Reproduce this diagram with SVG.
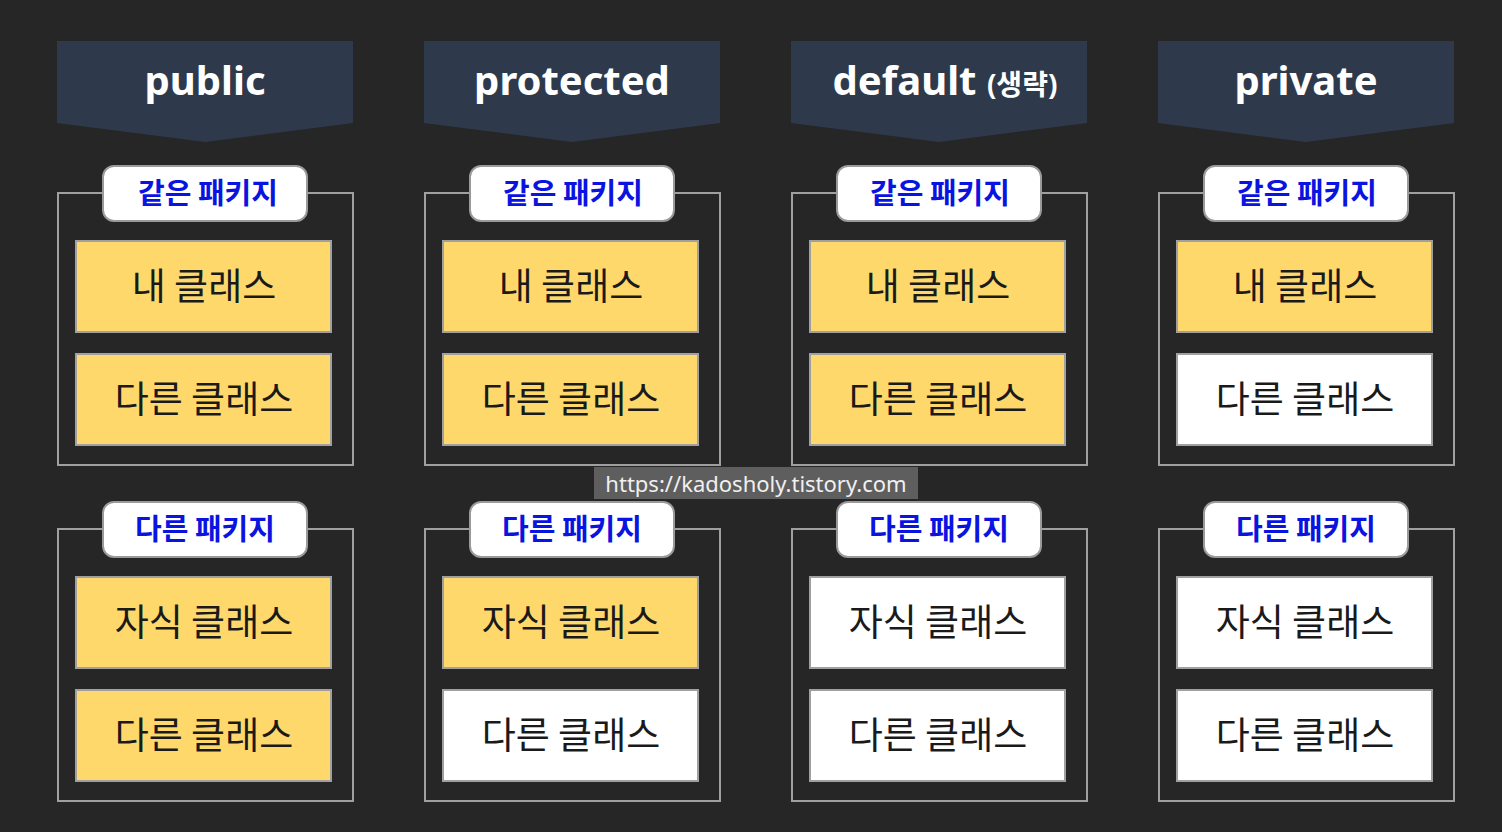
<svg xmlns="http://www.w3.org/2000/svg" width="1502" height="832" viewBox="0 0 1502 832">
<style>
.hdr{fill:#2e3a4c}
.htxt{font-family:"Noto Sans","Noto Sans CJK KR",sans-serif;font-weight:bold;font-size:40px;fill:#ffffff;text-anchor:middle}
.frame{fill:none;stroke:#a0a0a0;stroke-width:2}
.tag{fill:#ffffff;stroke:#9a9a9a;stroke-width:2}
.ttxt{font-family:"Noto Sans CJK KR",sans-serif;font-weight:bold;font-size:29px;fill:#0a14e0;text-anchor:middle}
.on{fill:#fed86b;stroke:#a0a0a0;stroke-width:2}
.off{fill:#ffffff;stroke:#a0a0a0;stroke-width:2}
.ctxt{font-family:"Noto Sans CJK KR",sans-serif;font-size:37px;fill:#1a1a1a;text-anchor:middle}
.wm{font-family:"Noto Sans","Noto Sans CJK KR",sans-serif;font-size:22px;fill:#f0f0f0;text-anchor:middle}
</style>
<defs>
<g id="hdrshape"><path class="hdr" d="M0,41 H296 V123 L148,142 L0,123 Z"/></g>
</defs>
<rect width="1502" height="832" fill="#262626"/>

<g id="col-public">
<use href="#hdrshape" x="57"/>
<text class="htxt" x="205" y="95">public</text>
<g id="public-same">
<path class="frame" d="M103,193 H58 V465 H353 V193 H307"/>
<rect class="tag" x="103" y="166" width="204" height="55" rx="11"/>
<text class="ttxt" x="208" y="204">같은 패키지</text>
<rect class="on" x="76" y="241" width="255" height="91"/>
<text class="ctxt" x="204" y="300">내 클래스</text>
<rect class="on" x="76" y="354" width="255" height="91"/>
<text class="ctxt" x="204" y="413">다른 클래스</text>
</g>
<g id="public-other">
<path class="frame" d="M103,529 H58 V801 H353 V529 H307"/>
<rect class="tag" x="103" y="502" width="204" height="55" rx="11"/>
<text class="ttxt" x="205" y="540">다른 패키지</text>
<rect class="on" x="76" y="577" width="255" height="91"/>
<text class="ctxt" x="204" y="636">자식 클래스</text>
<rect class="on" x="76" y="690" width="255" height="91"/>
<text class="ctxt" x="204" y="749">다른 클래스</text>
</g>
</g>

<g id="col-protected">
<use href="#hdrshape" x="424"/>
<text class="htxt" x="572" y="95">protected</text>
<g id="protected-same">
<path class="frame" d="M470,193 H425 V465 H720 V193 H674"/>
<rect class="tag" x="470" y="166" width="204" height="55" rx="11"/>
<text class="ttxt" x="573" y="204">같은 패키지</text>
<rect class="on" x="443" y="241" width="255" height="91"/>
<text class="ctxt" x="571" y="300">내 클래스</text>
<rect class="on" x="443" y="354" width="255" height="91"/>
<text class="ctxt" x="571" y="413">다른 클래스</text>
</g>
<g id="protected-other">
<path class="frame" d="M470,529 H425 V801 H720 V529 H674"/>
<rect class="tag" x="470" y="502" width="204" height="55" rx="11"/>
<text class="ttxt" x="572" y="540">다른 패키지</text>
<rect class="on" x="443" y="577" width="255" height="91"/>
<text class="ctxt" x="571" y="636">자식 클래스</text>
<rect class="off" x="443" y="690" width="255" height="91"/>
<text class="ctxt" x="571" y="749">다른 클래스</text>
</g>
</g>

<g id="col-default">
<use href="#hdrshape" x="791"/>
<text class="htxt" x="945" y="95">default <tspan font-size="28px">(생략)</tspan></text>
<g id="default-same">
<path class="frame" d="M837,193 H792 V465 H1087 V193 H1041"/>
<rect class="tag" x="837" y="166" width="204" height="55" rx="11"/>
<text class="ttxt" x="940" y="204">같은 패키지</text>
<rect class="on" x="810" y="241" width="255" height="91"/>
<text class="ctxt" x="938" y="300">내 클래스</text>
<rect class="on" x="810" y="354" width="255" height="91"/>
<text class="ctxt" x="938" y="413">다른 클래스</text>
</g>
<g id="default-other">
<path class="frame" d="M837,529 H792 V801 H1087 V529 H1041"/>
<rect class="tag" x="837" y="502" width="204" height="55" rx="11"/>
<text class="ttxt" x="939" y="540">다른 패키지</text>
<rect class="off" x="810" y="577" width="255" height="91"/>
<text class="ctxt" x="938" y="636">자식 클래스</text>
<rect class="off" x="810" y="690" width="255" height="91"/>
<text class="ctxt" x="938" y="749">다른 클래스</text>
</g>
</g>

<g id="col-private">
<use href="#hdrshape" x="1158"/>
<text class="htxt" x="1306" y="95">private</text>
<g id="private-same">
<path class="frame" d="M1204,193 H1159 V465 H1454 V193 H1408"/>
<rect class="tag" x="1204" y="166" width="204" height="55" rx="11"/>
<text class="ttxt" x="1307" y="204">같은 패키지</text>
<rect class="on" x="1177" y="241" width="255" height="91"/>
<text class="ctxt" x="1305" y="300">내 클래스</text>
<rect class="off" x="1177" y="354" width="255" height="91"/>
<text class="ctxt" x="1305" y="413">다른 클래스</text>
</g>
<g id="private-other">
<path class="frame" d="M1204,529 H1159 V801 H1454 V529 H1408"/>
<rect class="tag" x="1204" y="502" width="204" height="55" rx="11"/>
<text class="ttxt" x="1306" y="540">다른 패키지</text>
<rect class="off" x="1177" y="577" width="255" height="91"/>
<text class="ctxt" x="1305" y="636">자식 클래스</text>
<rect class="off" x="1177" y="690" width="255" height="91"/>
<text class="ctxt" x="1305" y="749">다른 클래스</text>
</g>
</g>

<g id="connectors"></g>

<g id="watermark">
<rect x="594" y="467" width="324" height="32" fill="#5e5e5e"/>
<text class="wm" x="756" y="492">https://kadosholy.tistory.com</text>
</g>
</svg>
